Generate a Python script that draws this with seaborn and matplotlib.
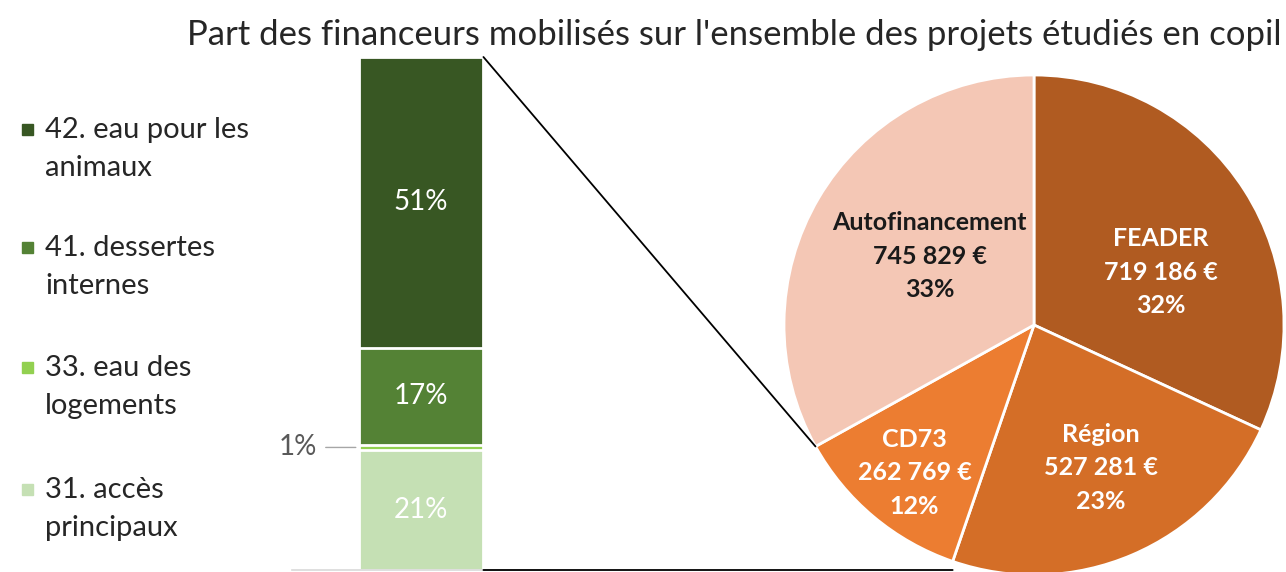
import numpy as np
import matplotlib
matplotlib.use("Agg")
import matplotlib.pyplot as plt
import matplotlib.transforms as mtransforms
from matplotlib.patches import ConnectionPatch, Rectangle
import seaborn as sns

# Data
bar_labels = ["31. accès\nprincipaux", "33. eau des\nlogements", "41. dessertes\ninternes", "42. eau pour les\nanimaux"]
bar_values = [21, 1, 17, 51]
bar_colors = ["#C5E0B4", "#92D050", "#548235", "#385723"]

pie_labels = ["FEADER", "Région", "CD73", "Autofinancement"]
pie_values = [719186, 527281, 262769, 745829]
pie_colors = ["#B05B21", "#D46E27", "#EC7D31", "#F4C7B5"]
pie_text_colors = ["white", "white", "white", "#1a1a1a"]

title = "Part des financeurs mobilisés sur l'ensemble des projets étudiés en copil"

sns.set_theme(style="white")
plt.rcParams["font.family"] = ["Lato", "DejaVu Sans"]

W, H = 1286, 572
fig = plt.figure(figsize=(W / 100, H / 100), dpi=100)

# stacked bar (drawn as overlaid cumulative bars)
ax_bar = fig.add_axes([292 / W, 2 / H, 258 / W, 513 / H])
cum = np.cumsum(bar_values)
bw = 0.484
for i in range(len(bar_values) - 1, -1, -1):
    sns.barplot(x=["copil"], y=[cum[i]], color=bar_colors[i], saturation=1,
                width=bw, edgecolor="white", linewidth=2, ax=ax_bar)
ax_bar.set_xlim(-0.5, 0.5)
ax_bar.set_ylim(0, cum[-1])
ax_bar.set_xticks([])
ax_bar.set_yticks([])
ax_bar.set_xlabel("")
ax_bar.set_ylabel("")
for s in ["top", "left", "right"]:
    ax_bar.spines[s].set_visible(False)
ax_bar.spines["bottom"].set_color("#D9D9D9")
ax_bar.spines["bottom"].set_linewidth(1.2)
ax_bar.patch.set_alpha(0)

bottoms = np.concatenate([[0], cum[:-1]])
for v, b in zip(bar_values, bottoms):
    if v < 3:
        ax_bar.annotate(f"{v}%", xy=(-bw / 2, b + v / 2), xytext=(-30, 0),
                        textcoords="offset points", ha="right", va="center",
                        fontsize=20, color="#595959",
                        arrowprops=dict(arrowstyle="-", color="#A6A6A6", lw=1,
                                        shrinkA=4, shrinkB=2))
    else:
        ax_bar.text(0, b + v / 2, f"{v}%", ha="center", va="center",
                    fontsize=20, color="white")

# legend drawn on the left
leg_y = [149, 267, 387, 509]
for lab, col, y in zip(bar_labels[::-1], bar_colors[::-1], leg_y):
    fig.text(45 / W, 1 - y / H, lab, ha="left", va="center", fontsize=21,
             color="#262626", linespacing=1.6)
    fig.patches.append(Rectangle((22 / W, 1 - (y - 14) / H), 11 / W, 11 / H,
                                 transform=fig.transFigure, color=col))

# pie
ax_pie = fig.add_axes([784 / W, -3 / H, 500 / W, 500 / H])
wedges, _ = ax_pie.pie(pie_values, colors=pie_colors, startangle=90,
                       counterclock=False,
                       wedgeprops=dict(edgecolor="white", linewidth=2))
ax_pie.set_xlim(-1, 1)
ax_pie.set_ylim(-1, 1)
ax_pie.set_aspect("equal")

total = sum(pie_values)
label_r = [0.55, 0.63, 0.76, 0.5]
label_da = [-10, 2, 1, -3]
for w, lab, v, c, r, da in zip(wedges, pie_labels, pie_values, pie_text_colors, label_r, label_da):
    mid = np.deg2rad((w.theta1 + w.theta2) / 2 + da)
    amount = f"{v:,}".replace(",", " ")
    ax_pie.text(r * np.cos(mid), r * np.sin(mid),
                f"{lab}\n{amount} €\n{round(100 * v / total)}%",
                ha="center", va="center", fontsize=18, fontweight="bold",
                color=c, linespacing=1.55)

# connector lines
th_top = np.deg2rad(wedges[2].theta1)
th_bot = np.deg2rad(wedges[2].theta2)
con1 = ConnectionPatch(xyA=(bw / 2, cum[-1]), coordsA=ax_bar.transData,
                       xyB=(np.cos(th_top), np.sin(th_top)), coordsB=ax_pie.transData,
                       color="black", lw=1.3)
fig.add_artist(con1)
blend = mtransforms.blended_transform_factory(ax_pie.transData, ax_bar.transData)
con2 = ConnectionPatch(xyA=(bw / 2, 0), coordsA=ax_bar.transData,
                       xyB=(np.cos(th_bot), 0), coordsB=blend,
                       color="black", lw=1.3)
fig.add_artist(con2)

fig.text(734 / W, 1 - 35 / H, title, ha="center", va="center", fontsize=25,
         color="#262626")

fig.savefig("out.png", dpi=100)
